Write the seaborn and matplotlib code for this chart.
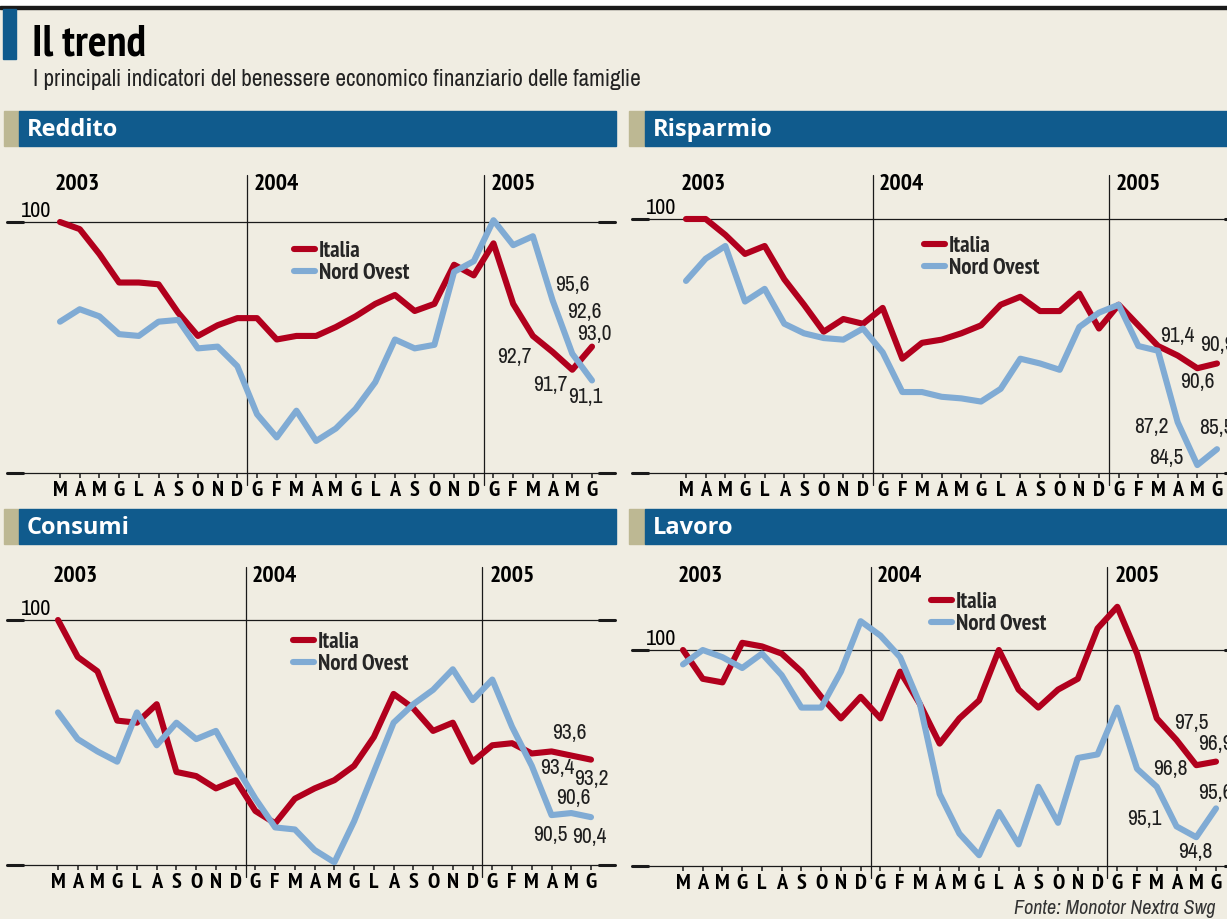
import matplotlib
matplotlib.use("Agg")
import matplotlib.pyplot as plt
from matplotlib import font_manager
from matplotlib.font_manager import FontProperties
from matplotlib.patches import Rectangle
import seaborn as sns
import pandas as pd

W, H = 1227, 919

# ---- dati (indice, marzo 2003 = 100) ----
mesi = ["M", "A", "M", "G", "L", "A", "S", "O", "N", "D",
        "G", "F", "M", "A", "M", "G", "L", "A", "S", "O", "N", "D",
        "G", "F", "M", "A", "M", "G"]
anni = ["2003", "2004", "2005"]
serie = ["Italia", "Nord Ovest"]

reddito_italia = [100.0, 99.6, 98.2, 96.6, 96.6, 96.5, 94.9, 93.6, 94.2, 94.6,
                  94.6, 93.4, 93.6, 93.6, 94.1, 94.7, 95.4, 95.9, 95.0, 95.4, 97.6, 97.0,
                  98.8, 95.4, 93.6, 92.7, 91.7, 93.0]
reddito_nordovest = [94.4, 95.1, 94.7, 93.7, 93.6, 94.4, 94.5, 92.9, 93.0, 91.9,
                     89.2, 87.9, 89.4, 87.7, 88.4, 89.5, 91.0, 93.4, 92.9, 93.1, 97.2, 97.8,
                     100.1, 98.7, 99.2, 95.6, 92.6, 91.1]

risparmio_italia = [100.0, 100.0, 99.0, 97.8, 98.3, 96.2, 94.6, 92.9, 93.7, 93.4,
                    94.4, 91.2, 92.2, 92.4, 92.8, 93.3, 94.6, 95.1, 94.2, 94.2, 95.3, 93.1,
                    94.6, 93.3, 92.0, 91.4, 90.6, 90.9]
risparmio_nordovest = [96.1, 97.5, 98.3, 94.8, 95.6, 93.4, 92.8, 92.5, 92.4, 93.1,
                       91.6, 89.1, 89.1, 88.8, 88.7, 88.5, 89.3, 91.2, 90.9, 90.5, 93.2, 94.1,
                       94.6, 92.0, 91.7, 87.2, 84.5, 85.5]

consumi_italia = [100.0, 98.2, 97.5, 95.1, 95.0, 95.9, 92.6, 92.4, 91.8, 92.2,
                  90.7, 90.1, 91.3, 91.8, 92.2, 92.9, 94.3, 96.4, 95.7, 94.6, 95.0, 93.1,
                  93.9, 94.0, 93.5, 93.6, 93.4, 93.2]
consumi_nordovest = [95.5, 94.2, 93.6, 93.1, 95.5, 93.9, 95.0, 94.2, 94.6, 92.9,
                     91.3, 89.9, 89.8, 88.8, 88.2, 90.2, 92.6, 95.0, 95.9, 96.6, 97.6, 96.1,
                     97.1, 94.8, 92.9, 90.5, 90.6, 90.4]

lavoro_italia = [100.0, 99.2, 99.1, 100.2, 100.1, 99.9, 99.4, 98.7, 98.1, 98.7,
                 98.1, 99.4, 98.5, 97.4, 98.1, 98.6, 100.0, 98.9, 98.4, 98.9, 99.2, 100.6,
                 101.2, 99.9, 98.1, 97.5, 96.8, 96.9]
lavoro_nordovest = [99.6, 100.0, 99.8, 99.5, 99.9, 99.3, 98.4, 98.4, 99.4, 100.8,
                    100.4, 99.8, 98.5, 96.0, 94.9, 94.3, 95.5, 94.6, 96.2, 95.2, 97.0, 97.1,
                    98.4, 96.7, 96.2, 95.1, 94.8, 95.6]

# ---- stile ----
BG = "#f0ede2"
ROSSO = "#b1001d"
AZZURRO = "#80abd4"
BLU = "#105b8d"
SABBIA = "#bdb893"
NERO = "#1a1a1a"

sns.set_theme(style="white")
plt.rcParams["font.family"] = ["Liberation Sans", "DejaVu Sans"]


def peso(f):
    w = f.weight
    if isinstance(w, str):
        w = font_manager.weight_dict.get(w, 400)
    return w


def faccia(bold=False, italic=False):
    # cerca un carattere stretto (narrow / semi-condensed) installato
    migliore, punti = None, -100
    for f in font_manager.fontManager.ttflist:
        nome = (f.name + " " + f.fname).lower()
        if "cjk" in nome or "mono" in nome or "serif" in nome.replace("sans", ""):
            continue
        if not ("narrow" in nome or "condensed" in nome or str(f.stretch) in ("condensed", "semi-condensed")):
            continue
        if bold != (peso(f) >= 600):
            continue
        if peso(f) >= 800 or (not bold and peso(f) < 350):
            continue
        if italic != (f.style in ("italic", "oblique")):
            continue
        s = 1
        if "narrow" in nome:
            s += 10
        if "semi" in nome:
            s += 2
        if "extra" in nome or "ultra" in nome:
            s -= 3
        if "noto" in nome:
            s += 3
        if s > punti:
            migliore, punti = f.fname, s
    return migliore


def fp(size, bold=False, italic=False):
    path = faccia(bold, italic)
    if path:
        return FontProperties(fname=path, size=size)
    return FontProperties(family=["Liberation Sans", "DejaVu Sans"], size=size * 0.86,
                          weight="bold" if bold else "normal", style="italic" if italic else "normal")


TESTATA = FontProperties(family=["Open Sans", "DejaVu Sans"], weight="bold", size=17)

PX = 0.72  # punti per pixel a 100 dpi


def fx(x):
    return x / W


def fy(y):
    return 1 - y / H


# layout dei pannelli in pixel: riquadro, posizione primo/ultimo mese, riga del 100, valore di fondo
pannelli = {
    "Reddito": dict(dati=(reddito_italia, reddito_nordovest), box=(7, 615, 175, 473),
                    x0=60, x27=592, y100=222, fondo=85.9, head=(4, 19, 616, 111, 146),
                    legenda=(296, 249),
                    etichette=[("Nord Ovest", 25, 20, -15, "center"), ("Nord Ovest", 26, 12, -42, "center"),
                               ("Italia", 27, 2, -13, "center"), ("Italia", 25, -38, 5, "center"),
                               ("Italia", 26, -22, 15, "center"), ("Nord Ovest", 27, -7, 17, "center")]),
    "Risparmio": dict(dati=(risparmio_italia, risparmio_nordovest), box=(632, 1241, 175, 473),
                      x0=686, x27=1217, y100=219, fondo=84.0, head=(629, 645, 1240, 111, 146),
                      legenda=(926, 244),
                      etichette=[("Italia", 25, 0, -20, "center"), ("Italia", 27, -17, -18, "left"),
                                 ("Italia", 26, 0, 14, "center"), ("Nord Ovest", 25, -26, 5, "center"),
                                 ("Nord Ovest", 26, -31, -7, "center"), ("Nord Ovest", 27, -18, -21, "left")]),
    "Consumi": dict(dati=(consumi_italia, consumi_nordovest), box=(7, 615, 567, 865),
                    x0=58, x27=591, y100=620, fondo=88.07, head=(4, 19, 616, 509, 544),
                    legenda=(295, 640),
                    etichette=[("Italia", 25, 18, -18, "center"), ("Italia", 26, -14, 12, "center"),
                               ("Italia", 27, 0, 19, "center"), ("Nord Ovest", 26, 2, -15, "center"),
                               ("Nord Ovest", 25, -1, 20, "center"), ("Nord Ovest", 27, -2, 20, "center")]),
    "Lavoro": dict(dati=(lavoro_italia, lavoro_nordovest), box=(632, 1241, 567, 866),
                   x0=683, x27=1216, y100=650, fondo=94.0, head=(629, 645, 1240, 509, 544),
                   legenda=(933, 600),
                   etichette=[("Italia", 25, 15, -17, "center"), ("Italia", 27, -18, -18, "left"),
                              ("Italia", 26, -26, 4, "center"), ("Nord Ovest", 27, -18, -15, "left"),
                              ("Nord Ovest", 25, -32, -7, "center"), ("Nord Ovest", 26, -1, 15, "center")]),
}

fig = plt.figure(figsize=(W / 100, H / 100), dpi=100, facecolor=BG)

# fascia bianca e filetto nero in alto
fig.patches.append(Rectangle((0, fy(6)), 1, 6 / H, transform=fig.transFigure, color="white", zorder=0))
fig.patches.append(Rectangle((0, fy(9)), 1, 3 / H, transform=fig.transFigure, color=NERO, zorder=1))
fig.patches.append(Rectangle((fx(3), fy(59)), 13 / W, 50 / H, transform=fig.transFigure, color=BLU, zorder=1))

fig.text(fx(32), fy(45), "Il trend", fontproperties=fp(31.5, bold=True), color="black", va="center", ha="left")
fig.text(fx(33), fy(80), "I principali indicatori del benessere economico finanziario delle famiglie",
         fontproperties=fp(16.7), color="#222222", va="center", ha="left")
fig.text(fx(1215), fy(908), "Fonte: Monotor Nextra Swg", fontproperties=fp(14.5, italic=True),
         color="#333333", va="center", ha="right")

for nome, p in pannelli.items():
    # testata
    t0, t1, t2, ty0, ty1 = p["head"]
    fig.patches.append(Rectangle((fx(t0), fy(ty1)), (t1 - t0) / W, (ty1 - ty0) / H,
                                 transform=fig.transFigure, color=SABBIA, zorder=1))
    fig.patches.append(Rectangle((fx(t1), fy(ty1)), (t2 - t1) / W, (ty1 - ty0) / H,
                                 transform=fig.transFigure, color=BLU, zorder=1))
    fig.text(fx(t1 + 8), fy((ty0 + ty1) / 2 + 1), nome, fontproperties=TESTATA,
             color="white", va="center", ha="left")

    left, right, top, bottom = p["box"]
    ax = fig.add_axes([fx(left), fy(bottom), (right - left) / W, (bottom - top) / H])
    ax.set_facecolor("none")
    pxx = (p["x27"] - p["x0"]) / 27
    pxy = (bottom - p["y100"]) / (100 - p["fondo"])
    ax.set_xlim(-(p["x0"] - left) / pxx, 27 + (right - p["x27"]) / pxx)
    ax.set_ylim(p["fondo"], 100 + (p["y100"] - top) / pxy)
    for s in ax.spines.values():
        s.set_visible(False)

    italia, nordovest = p["dati"]
    df = pd.DataFrame({
        "mese": list(range(len(mesi))) * 2,
        "valore": italia + nordovest,
        "serie": [serie[0]] * len(mesi) + [serie[1]] * len(mesi),
    })
    valori = {serie[0]: italia, serie[1]: nordovest}

    # linee di riferimento
    altezza = bottom - top
    larghezza = right - left
    for yv in (100, p["fondo"]):
        ax.axhline(yv, color=NERO, lw=0.9, zorder=1, clip_on=False)
        ax.axhline(yv, xmin=0, xmax=16 / larghezza, color=NERO, lw=2.2, zorder=1, clip_on=False)
        ax.axhline(yv, xmin=1 - 16 / larghezza, xmax=1, color=NERO, lw=2.2, zorder=1, clip_on=False)
    for xv in (9.5, 21.5):
        ax.axvline(xv, ymin=-12 / altezza, ymax=1, color=NERO, lw=0.9, zorder=1, clip_on=False)

    sns.lineplot(data=df, x="mese", y="valore", hue="serie", hue_order=serie,
                 palette={serie[0]: ROSSO, serie[1]: AZZURRO}, linewidth=4.4, errorbar=None,
                 solid_capstyle="round", solid_joinstyle="round", ax=ax, zorder=3)

    # legenda
    lx, ly = p["legenda"]
    ax.legend(loc="upper left", bbox_to_anchor=(fx(lx - 2), fy(ly - 8)), bbox_transform=fig.transFigure,
              frameon=False, borderpad=0, borderaxespad=0, handlelength=0.9, handletextpad=0.2,
              labelspacing=0.05, prop=fp(16.5, bold=True))

    # anni
    pos_anni = [(0, -5), (9.5, 6), (21.5, 7)]
    for anno, (xa, dx) in zip(anni, pos_anni):
        ax.annotate(anno, xy=(xa, 1), xycoords=("data", "axes fraction"),
                    xytext=(dx * PX, -9 * PX), textcoords="offset points",
                    fontproperties=fp(17, bold=True), color="black", va="center", ha="left")

    ax.annotate("100", xy=(0, 100), xycoords=("axes fraction", "data"),
                xytext=(14 * PX, 1), textcoords="offset points",
                fontproperties=fp(16), color="black", va="bottom", ha="left")

    # valori finali
    for s, i, dx, dy, ha in p["etichette"]:
        v = valori[s][i]
        testo = f"{v:.1f}".replace(".", ",")
        ax.annotate(testo, xy=(i, v), xytext=(dx * PX, -dy * PX), textcoords="offset points",
                    fontproperties=fp(15.5), color="#1e1e1e", va="center", ha=ha, zorder=4)

    ax.set_xticks(range(len(mesi)))
    ax.set_xticklabels(mesi, color="black")
    for lbl in ax.get_xticklabels():
        lbl.set_fontproperties(fp(16, bold=True))
    ax.set_yticks([])
    ax.tick_params(axis="x", length=3.5, width=1.1, color=NERO, direction="out", pad=2, bottom=True)
    ax.set_xlabel("")
    ax.set_ylabel("")

fig.savefig("out.png", dpi=100, facecolor=BG)
